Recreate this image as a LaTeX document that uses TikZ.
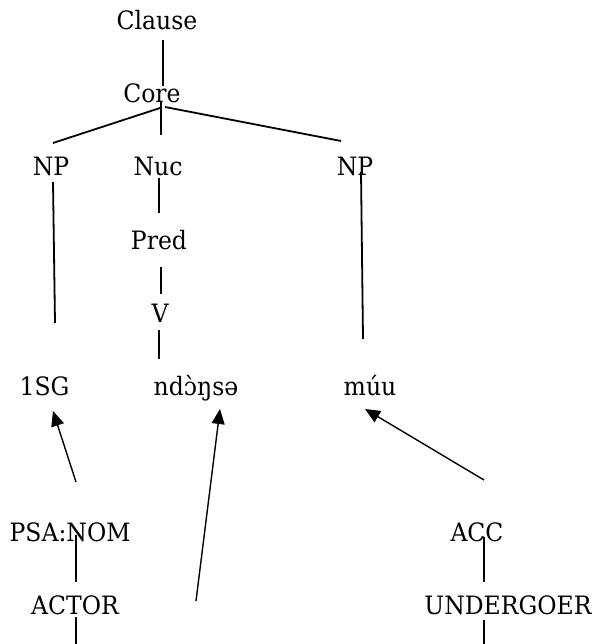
\documentclass[tikz,border=0pt]{standalone}
\usepackage{fontspec}
\setmainfont[FakeStretch=0.93]{DejaVu Serif}
\usetikzlibrary{arrows.meta}
\begin{document}
\begin{tikzpicture}[x=1pt,y=-1pt,
  lbl/.style={anchor=base,inner sep=0pt,font=\fontsize{25.3}{28}\selectfont},
  branch/.style={line width=1.8pt},
  thin/.style={line width=1.1pt},
  link/.style={line width=1.4pt,-{Triangle[length=15pt,width=13pt]}}]
\useasboundingbox (0,0) rectangle (594,644);
% tree labels
\node[lbl] (clause) at (157,30) {Clause};
\node[lbl] (core) at (152,103) {Core};
\node[lbl] (np1) at (51,176) {NP};
\node[lbl] (nuc) at (158,176) {Nuc};
\node[lbl] (np2) at (355,176) {NP};
\node[lbl] (pred) at (159,249) {Pred};
\node[lbl] (v) at (160,322) {V};
\node[lbl] (sg) at (44.5,395) {1SG};
\node[lbl] (verb) at (196,395) {ndɔ̀ŋsə};
\node[lbl] (muu) at (370,395) {múu};
\node[lbl] (psa) at (70,541) {PSA:NOM};
\node[lbl] (acc) at (477,541) {ACC};
\node[lbl] (actor) at (75,614) {ACTOR};
\node[lbl] (und) at (508,614) {UNDERGOER};
% line end points
\coordinate (clauseB) at (163,40);   \coordinate (coreT) at (163,86);
\coordinate (coreL) at (160,108);    \coordinate (np1T) at (53,143);
\coordinate (coreM) at (161,102);    \coordinate (nucT) at (161,135);
\coordinate (coreR) at (165,107);    \coordinate (np2T) at (341,141);
\coordinate (np1B) at (53,182);      \coordinate (sgT) at (55,323);
\coordinate (nucB) at (159,178);     \coordinate (predT) at (159,213);
\coordinate (predB) at (161,267);    \coordinate (vT) at (161,294);
\coordinate (vB) at (159,330);       \coordinate (verbT) at (159,359);
\coordinate (np2B) at (361,172);     \coordinate (muuT) at (363,339);
\coordinate (psaT) at (76,482);      \coordinate (sgB) at (53,411);
\coordinate (free) at (196,601);     \coordinate (verbB) at (220,409);
\coordinate (accT) at (484,480);     \coordinate (muuB) at (365,409);
\coordinate (psaB) at (76,535);      \coordinate (actorT) at (76,582);
\coordinate (actorB) at (76,617);    \coordinate (actorEnd) at (76,644);
\coordinate (accB) at (484,537);     \coordinate (undT) at (484,582);
\coordinate (undB) at (484,620);     \coordinate (undEnd) at (484,644);
% tree branches
\draw[thin] (clauseB) -- (coreT);
\draw[branch] (coreL) -- (np1T);
\draw[branch] (coreM) -- (nucT);
\draw[branch] (coreR) -- (np2T);
\draw[branch] (np1B) -- (sgT);
\draw[branch] (nucB) -- (predT);
\draw[branch] (predB) -- (vT);
\draw[branch] (vB) -- (verbT);
\draw[branch] (np2B) -- (muuT);
% linking arrows
\draw[link] (psaT) -- (sgB);
\draw[link] (free) -- (verbB);
\draw[link] (accT) -- (muuB);
% role lines
\draw[branch] (psaB) -- (actorT);
\draw[branch] (actorB) -- (actorEnd);
\draw[branch] (accB) -- (undT);
\draw[branch] (undB) -- (undEnd);
\end{tikzpicture}
\end{document}
